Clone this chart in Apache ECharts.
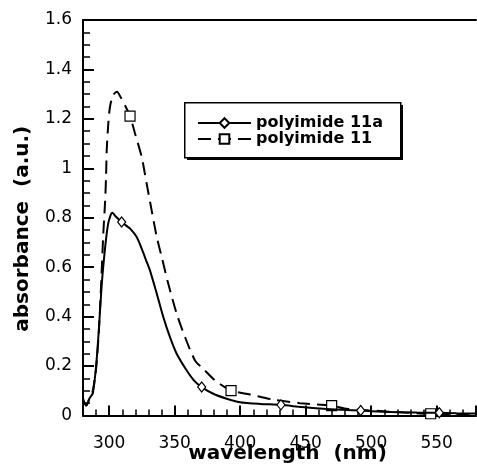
<!DOCTYPE html>
<html>
<head>
<meta charset="utf-8">
<script src="https://cdn.jsdelivr.net/npm/echarts@6/dist/echarts.min.js"></script>
<style>html,body{margin:0;padding:0;background:#fff}#c{width:477px;height:475px}</style>
</head>
<body>
<div id="c"></div>
<script>
var seriesNames = ['polyimide 11a', 'polyimide 11'];

var wl11a = [280, 282.5, 285, 287.5, 290, 292, 294.3, 296.5, 299, 301, 302.5, 305, 309.5, 313, 316, 321, 324.8, 328, 331.1, 336.3, 341.3, 346.4, 351.5, 359.2, 365, 370.6, 379.5, 389.7, 399.8, 415, 431.1, 447, 463.4, 478, 492, 514.4, 535, 552, 565, 580];
var abs11a = [0.07, 0.04, 0.07, 0.09, 0.2, 0.34, 0.53, 0.66, 0.77, 0.81, 0.82, 0.805, 0.783, 0.768, 0.756, 0.722, 0.675, 0.63, 0.587, 0.493, 0.398, 0.317, 0.25, 0.182, 0.14, 0.115, 0.088, 0.068, 0.054, 0.047, 0.043, 0.034, 0.027, 0.023, 0.02, 0.014, 0.012, 0.011, 0.009, 0.008];
var markers11a = [309.5, 370.6, 431.1, 492, 552];

var wl11 = [280, 282.5, 285, 287.5, 290, 292, 294, 295.5, 296.8, 297.6, 298.1, 299.3, 300.6, 303, 306, 308.8, 312, 315.9, 319.7, 324.8, 328.6, 332.4, 336.3, 340.1, 345.1, 351.5, 357.9, 365.5, 371.8, 380.8, 393, 407.5, 425.3, 445.6, 469.8, 481.3, 506.7, 525, 545.4, 580];
var abs11 = [0.06, 0.04, 0.07, 0.1, 0.19, 0.33, 0.55, 0.737, 0.858, 0.965, 1.073, 1.18, 1.249, 1.296, 1.31, 1.287, 1.255, 1.211, 1.141, 1.046, 0.938, 0.83, 0.722, 0.641, 0.533, 0.412, 0.317, 0.223, 0.189, 0.142, 0.101, 0.085, 0.064, 0.05, 0.04, 0.027, 0.018, 0.012, 0.007, 0.005];
var markers11 = [315.9, 393, 469.8, 545.4];

function build(wl, ab, marks) {
  return wl.map(function (x, i) {
    var item = { value: [x, ab[i]] };
    if (marks.indexOf(x) < 0) item.symbol = 'none';
    return item;
  });
}

var chart = echarts.init(document.getElementById('c'), null, { renderer: 'canvas' });
var tickFont = { fontFamily: 'DejaVu Sans', fontSize: 17, color: '#000' };
chart.setOption({
  animation: false,
  backgroundColor: '#fff',
  grid: { left: 83, right: 1, top: 20, bottom: 59.5, containLabel: false, outerBoundsMode: 'none' },
  graphic: [
    { type: 'rect', left: 187, top: 105, shape: { width: 216, height: 55 }, style: { fill: '#000' }, z: 10 },
    { type: 'rect', left: 184, top: 102, shape: { width: 216, height: 55 }, style: { fill: '#fff', stroke: '#000', lineWidth: 1.5 }, z: 11 }
  ],
  legend: {
    orient: 'vertical',
    left: 184, top: 102,
    padding: [13, 12, 12, 13],
    itemGap: 0,
    itemWidth: 53, itemHeight: 12,
    z: 20,
    textStyle: { fontFamily: 'DejaVu Sans', fontWeight: 'bold', fontSize: 16, color: '#000', lineHeight: 15 },
    data: seriesNames
  },
  xAxis: [{
    type: 'value', min: 280, max: 580, splitNumber: 6,
    name: 'wavelength  (nm)', nameLocation: 'middle', nameGap: 28, nameMoveOverlap: false,
    nameTextStyle: { fontFamily: 'DejaVu Sans', fontWeight: 'bold', fontSize: 20, color: '#000', padding: [0, 0, 0, 16] },
    axisLine: { show: true, lineStyle: { color: '#000', width: 2 } },
    axisTick: { show: true, inside: true, length: 10, lineStyle: { color: '#000', width: 2 } },
    minorTick: { show: true, splitNumber: 5, length: 6, lineStyle: { color: '#000', width: 1.5 } },
    axisLabel: Object.assign({ margin: 20, showMinLabel: false, showMaxLabel: false }, tickFont),
    splitLine: { show: false }
  }, {
    type: 'value', min: 280, max: 580, position: 'top',
    axisLine: { show: true, lineStyle: { color: '#000', width: 2 } },
    axisTick: { show: false }, axisLabel: { show: false }, splitLine: { show: false }
  }],
  yAxis: {
    type: 'value', min: 0, max: 1.6, interval: 0.2,
    name: 'absorbance  (a.u.)', nameLocation: 'middle', nameGap: 50, nameMoveOverlap: false,
    nameTextStyle: { fontFamily: 'DejaVu Sans', fontWeight: 'bold', fontSize: 20, color: '#000', padding: [0, 22, 0, 0] },
    axisLine: { show: true, lineStyle: { color: '#000', width: 2 } },
    axisTick: { show: true, inside: true, length: 11, lineStyle: { color: '#000', width: 2 } },
    minorTick: { show: true, splitNumber: 4, length: 7, lineStyle: { color: '#000', width: 1.5 } },
    axisLabel: Object.assign({ margin: 11 }, tickFont),
    splitLine: { show: false }
  },
  series: [{
    name: seriesNames[0], type: 'line', smooth: 0.25,
    symbol: 'diamond', symbolSize: [8, 10], showSymbol: true,
    itemStyle: { color: '#fff', borderColor: '#000', borderWidth: 1.2 },
    lineStyle: { color: '#000', width: 2, type: 'solid' },
    data: build(wl11a, abs11a, markers11a), z: 3
  }, {
    name: seriesNames[1], type: 'line', smooth: 0.25,
    symbol: 'rect', symbolSize: 10, showSymbol: true,
    itemStyle: { color: '#fff', borderColor: '#000', borderWidth: 1.2 },
    lineStyle: { color: '#000', width: 2, type: [13, 7] },
    data: build(wl11, abs11, markers11), z: 2
  }]
});
</script>
</body>
</html>
